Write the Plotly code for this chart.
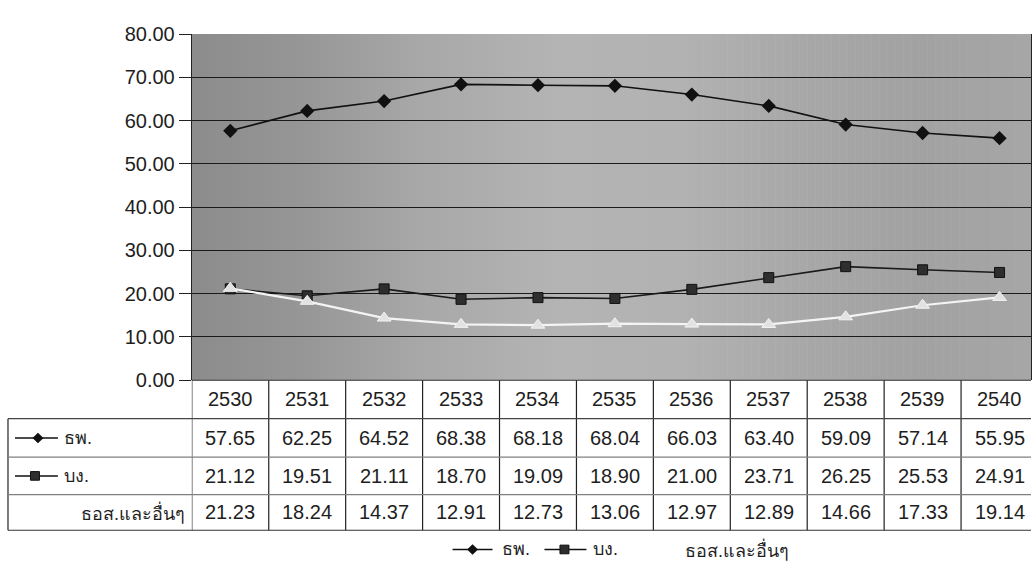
import plotly.graph_objects as go

# ---- data -------------------------------------------------------------
years = ["2530", "2531", "2532", "2533", "2534", "2535",
         "2536", "2537", "2538", "2539", "2540"]
series_names = ["ธพ.", "บง.", "ธอส.และอื่นๆ"]
commercial_banks = [57.65, 62.25, 64.52, 68.38, 68.18, 68.04,
                    66.03, 63.40, 59.09, 57.14, 55.95]
finance_companies = [21.12, 19.51, 21.11, 18.70, 19.09, 18.90,
                     21.00, 23.71, 26.25, 25.53, 24.91]
housing_and_others = [21.23, 18.24, 14.37, 12.91, 12.73, 13.06,
                      12.97, 12.89, 14.66, 17.33, 19.14]
y_ticks = [0, 10, 20, 30, 40, 50, 60, 70, 80]

# ---- page geometry (pixels) ------------------------------------------
W, H = 1032, 572
PLOT_L, PLOT_T, PLOT_B = 192, 24, 384
COL_W = 77                      # width of one year column
TABLE_L = 8
ROW_EDGES = [384, 424, 464, 503, 540]
LEGEND_Y = 560
FONT = "Arial, 'Liberation Sans', sans-serif"
TXT = "#1e1e1e"


def px(x):
    return x / W


def py(y):
    return 1 - y / H


# visible part of the category axis: the last column runs past the page edge
x_hi = -0.5 + (W - PLOT_L) / COL_W
xpos = list(range(len(years)))

fig = go.Figure()

styles = [
    dict(line=dict(color="#111111", width=1.6),
         marker=dict(symbol="diamond", size=11, color="#111111")),
    dict(line=dict(color="#1a1a1a", width=1.6),
         marker=dict(symbol="square", size=10, color="#2e2e2e",
                     line=dict(color="#111111", width=1))),
    dict(line=dict(color="#f4f4f4", width=2.2),
         marker=dict(symbol="triangle-up", size=12, color="#e2e2e2",
                     line=dict(color="#f2f2f2", width=1))),
]
all_series = [commercial_banks, finance_companies, housing_and_others]
for name, vals, st in zip(series_names, all_series, styles):
    fig.add_trace(go.Scatter(x=xpos, y=vals, name=name, mode="lines+markers",
                             line=st["line"], marker=st["marker"],
                             cliponaxis=False, showlegend=False))

shapes = []

# shaded background of the plotting area: smooth grey gradient left to right
anchors = [(192, 140), (300, 150), (420, 168), (560, 180), (680, 178),
           (800, 168), (920, 162), (1032, 166)]
x_cur = PLOT_L
step = 8
while x_cur < W:
    xm = x_cur + step / 2
    for (a0, g0), (a1, g1) in zip(anchors[:-1], anchors[1:]):
        if a0 <= xm <= a1:
            g = round(g0 + (g1 - g0) * (xm - a0) / (a1 - a0))
            break
    shapes.append(dict(type="rect", xref="paper", yref="paper", layer="below",
                       x0=px(x_cur), x1=px(min(x_cur + step + 0.6, W)),
                       y0=py(PLOT_B), y1=py(PLOT_T),
                       fillcolor=f"rgb({g},{g},{g})", line=dict(width=0)))
    x_cur += step

# ---- data table under the plot --------------------------------------
for i in range(len(years) + 1):
    xi = i - 0.5
    if xi > x_hi:
        break
    shapes.append(dict(type="line", xref="x", yref="paper",
                       x0=xi, x1=xi, y0=py(ROW_EDGES[0]), y1=py(ROW_EDGES[-1]),
                       line=dict(color="#222222", width=1.2)))
shapes.append(dict(type="line", xref="paper", yref="paper",
                   x0=px(TABLE_L), x1=px(TABLE_L),
                   y0=py(ROW_EDGES[1]), y1=py(ROW_EDGES[-1]),
                   line=dict(color="#222222", width=1.2)))
row_colors = ["#333333", "#444444", "#808080", "#808080", "#333333"]
for k, yy in enumerate(ROW_EDGES):
    x_left = PLOT_L if k == 0 else TABLE_L
    shapes.append(dict(type="line", xref="paper", yref="paper",
                       x0=px(x_left), x1=1, y0=py(yy), y1=py(yy),
                       line=dict(color=row_colors[k], width=1.2)))

row_centers = [(ROW_EDGES[k] + ROW_EDGES[k + 1]) / 2 for k in range(4)]

annotations = []
cell_font = dict(family=FONT, size=20, color=TXT)
for i, yr in enumerate(years):
    annotations.append(dict(x=i, y=py(row_centers[0]), xref="x", yref="paper",
                            text=yr, showarrow=False, font=cell_font,
                            xanchor="center", yanchor="middle"))
for r, vals in enumerate(all_series):
    for i, v in enumerate(vals):
        annotations.append(dict(x=i, y=py(row_centers[r + 1]), xref="x",
                                yref="paper", text=f"{v:.2f}", showarrow=False,
                                font=cell_font, xanchor="center",
                                yanchor="middle"))

key_font = dict(family=FONT, size=18, color=TXT)


def line_key(x0, x1, yc, color="#111111"):
    shapes.append(dict(type="line", xref="paper", yref="paper",
                       x0=px(x0), x1=px(x1), y0=py(yc), y1=py(yc),
                       line=dict(color=color, width=1.5)))


def diamond_key(cx, cy, s=5.5):
    shapes.append(dict(type="path", xref="paper", yref="paper",
                       path=(f"M {px(cx - s)} {py(cy)} L {px(cx)} {py(cy - s)} "
                             f"L {px(cx + s)} {py(cy)} L {px(cx)} {py(cy + s)} Z"),
                       fillcolor="#111111", line=dict(width=0)))


def square_key(cx, cy, q=4.5):
    shapes.append(dict(type="rect", xref="paper", yref="paper",
                       x0=px(cx - q), x1=px(cx + q), y0=py(cy + q),
                       y1=py(cy - q), fillcolor="#2e2e2e",
                       line=dict(color="#111111", width=1)))


def label(x, yc, text, anchor="left"):
    annotations.append(dict(x=px(x), y=py(yc), xref="paper", yref="paper",
                            text=text, showarrow=False, font=key_font,
                            xanchor=anchor, yanchor="middle"))


# row keys in the label column
line_key(15, 58, row_centers[1])
diamond_key(38, row_centers[1])
label(62, row_centers[1], series_names[0])
line_key(15, 58, row_centers[2])
square_key(35, row_centers[2])
label(62, row_centers[2], series_names[1])
label(187, row_centers[3], series_names[2], anchor="right")

# legend below the table
line_key(453, 493, LEGEND_Y)
diamond_key(473, LEGEND_Y)
label(500, LEGEND_Y, series_names[0])
line_key(545, 587, LEGEND_Y)
square_key(565, LEGEND_Y)
label(592, LEGEND_Y, series_names[1])
line_key(638, 680, LEGEND_Y, color="#ffffff")
label(684, LEGEND_Y, series_names[2])

fig.update_layout(
    width=W, height=H,
    margin=dict(l=0, r=0, t=0, b=0),
    paper_bgcolor="white",
    plot_bgcolor="rgba(0,0,0,0)",
    shapes=shapes,
    annotations=annotations,
    font=dict(family=FONT, color=TXT),
    showlegend=False,
    xaxis=dict(domain=[px(PLOT_L), 1], range=[-0.5, x_hi],
               showticklabels=False, ticks="", showgrid=False,
               zeroline=False, showline=False),
    yaxis=dict(domain=[py(PLOT_B), py(PLOT_T)], range=[0, 80],
               tickvals=y_ticks, tickformat=".2f",
               tickfont=dict(family=FONT, size=20, color=TXT),
               ticks="outside", ticklen=12, tickcolor="#222222", tickwidth=1.2,
               showgrid=True, gridcolor="#1a1a1a", gridwidth=1.2,
               zeroline=False, showline=True, linecolor="#222222",
               linewidth=1.2, mirror=True),
)

fig.write_html("out.html")
